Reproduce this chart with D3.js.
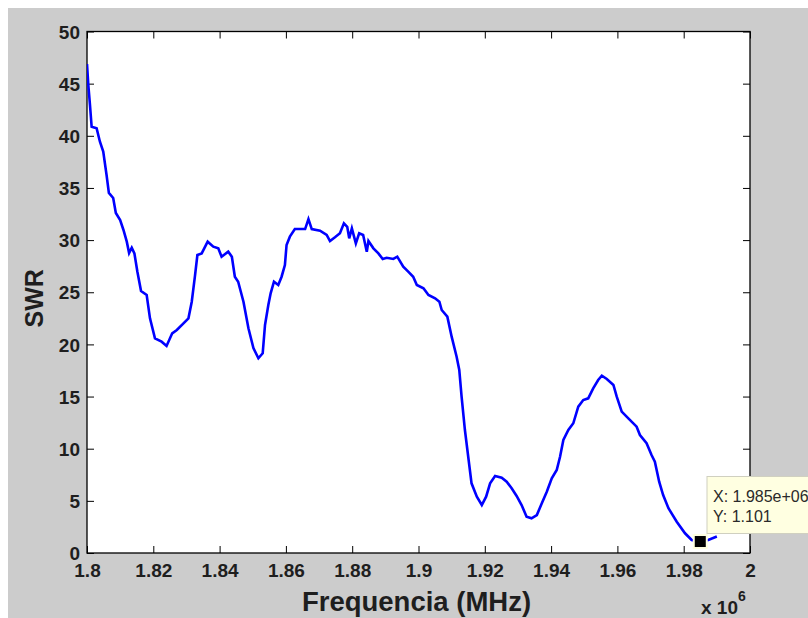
<!DOCTYPE html>
<html>
<head>
<meta charset="utf-8">
<script src="https://cdn.jsdelivr.net/npm/d3@7"></script>
<style>
  html, body { margin: 0; padding: 0; background: #ffffff; }
  svg { display: block; }
  text { font-family: "Liberation Sans", Arial, sans-serif; }
</style>
</head>
<body>
<svg id="chart" width="808" height="618"></svg>
<script>
// Sweep frequency (MHz) and measured standing wave ratio
const freqMHz = [
  1.8000, 1.8004, 1.8009, 1.8014, 1.8029, 1.8039, 1.8049, 1.8059, 1.8066, 1.8079,
  1.8087, 1.8100, 1.8110, 1.8120, 1.8127, 1.8135, 1.8143, 1.8152, 1.8163, 1.8180,
  1.8190, 1.8205, 1.8225, 1.8240, 1.8257, 1.8271, 1.8291, 1.8306, 1.8316, 1.8326,
  1.8333, 1.8346, 1.8364, 1.8381, 1.8396, 1.8406, 1.8426, 1.8437, 1.8446, 1.8456,
  1.8472, 1.8487, 1.8502, 1.8517, 1.8530, 1.8537, 1.8547, 1.8554, 1.8564, 1.8577,
  1.8587, 1.8597, 1.8602, 1.8612, 1.8627, 1.8658, 1.8668, 1.8678, 1.8703, 1.8723,
  1.8733, 1.8748, 1.8763, 1.8775, 1.8785, 1.8791, 1.8799, 1.8811, 1.8821, 1.8833,
  1.8844, 1.8849, 1.8864, 1.8879, 1.8892, 1.8904, 1.8924, 1.8936, 1.8954, 1.8969,
  1.8984, 1.8995, 1.9015, 1.9030, 1.9050, 1.9063, 1.9070, 1.9087, 1.9100, 1.9115,
  1.9123, 1.9130, 1.9140, 1.9150, 1.9160, 1.9176, 1.9191, 1.9204, 1.9216, 1.9231,
  1.9251, 1.9266, 1.9281, 1.9296, 1.9311, 1.9326, 1.9341, 1.9357, 1.9372, 1.9387,
  1.9402, 1.9417, 1.9427, 1.9437, 1.9452, 1.9467, 1.9482, 1.9497, 1.9512, 1.9527,
  1.9542, 1.9553, 1.9568, 1.9588, 1.9598, 1.9613, 1.9633, 1.9658, 1.9668, 1.9688,
  1.9703, 1.9713, 1.9726, 1.9738, 1.9754, 1.9779, 1.9804, 1.9824, 1.9850, 1.9874,
  1.9900
];
const swr = [
  46.88, 44.87, 42.95, 40.87, 40.72, 39.43, 38.48, 36.24, 34.52, 34.04,
  32.60, 31.93, 30.97, 29.85, 28.76, 29.27, 28.73, 26.97, 25.12, 24.74,
  22.50, 20.58, 20.26, 19.85, 21.06, 21.38, 22.02, 22.50, 24.09, 26.65,
  28.57, 28.73, 29.85, 29.37, 29.21, 28.41, 28.89, 28.41, 26.49, 26.01,
  24.09, 21.54, 19.65, 18.67, 19.15, 21.86, 23.78, 24.90, 26.01, 25.70,
  26.49, 27.61, 29.53, 30.33, 31.06, 31.06, 32.02, 31.06, 30.90, 30.49,
  29.91, 30.27, 30.65, 31.61, 31.28, 30.17, 31.13, 29.69, 30.65, 30.49,
  28.89, 29.91, 29.21, 28.73, 28.19, 28.31, 28.19, 28.41, 27.45, 26.97,
  26.49, 25.70, 25.38, 24.74, 24.42, 24.09, 23.30, 22.66, 20.74, 18.82,
  17.55, 14.99, 11.79, 9.23, 6.68, 5.40, 4.60, 5.40, 6.68, 7.38,
  7.22, 6.84, 6.20, 5.47, 4.60, 3.48, 3.33, 3.64, 4.77, 5.88,
  7.16, 7.96, 9.23, 10.83, 11.79, 12.44, 14.03, 14.67, 14.83, 15.79,
  16.59, 17.00, 16.68, 16.11, 14.99, 13.55, 12.91, 12.11, 11.31, 10.52,
  9.40, 8.75, 6.84, 5.56, 4.29, 3.00, 1.89, 1.25, 1.101, 1.25,
  1.58
];

const xTickValues = [1.8, 1.82, 1.84, 1.86, 1.88, 1.9, 1.92, 1.94, 1.96, 1.98, 2.0];
const xTickLabels = ["1.8", "1.82", "1.84", "1.86", "1.88", "1.9", "1.92", "1.94", "1.96", "1.98", "2"];
const yTickValues = [0, 5, 10, 15, 20, 25, 30, 35, 40, 45, 50];
const yTickLabels = ["0", "5", "10", "15", "20", "25", "30", "35", "40", "45", "50"];

// Data cursor readout
const cursorFreqMHz = [1.985];
const cursorSwr = [1.101];
const cursorLabels = ["X: 1.985e+06", "Y: 1.101"];

const svg = d3.select("#chart");
const W = 808, H = 618;
const plot = { left: 87, right: 750, top: 31.5, bottom: 553 };

// Figure background
svg.append("rect").attr("x", 8).attr("y", 8).attr("width", W - 8).attr("height", H - 8)
  .attr("fill", "#cccccc");

const x = d3.scaleLinear().domain([1.8, 2.0]).range([plot.left, plot.right]);
const y = d3.scaleLinear().domain([0, 50]).range([plot.bottom, plot.top]);

// Axes area
svg.append("rect")
  .attr("x", plot.left).attr("y", plot.top)
  .attr("width", plot.right - plot.left).attr("height", plot.bottom - plot.top)
  .attr("fill", "#ffffff");

svg.append("defs").append("clipPath").attr("id", "plotClip")
  .append("rect")
  .attr("x", plot.left).attr("y", plot.top)
  .attr("width", plot.right - plot.left).attr("height", plot.bottom - plot.top);

const tickFont = { size: "19px", weight: "bold", fill: "#1e1e1e" };
const tickLen = 7;

// Bottom axis with labels
const gBottom = svg.append("g").attr("transform", `translate(0,${plot.bottom})`)
  .call(d3.axisBottom(x).tickValues(xTickValues).tickSizeInner(-tickLen).tickSizeOuter(0)
    .tickPadding(12).tickFormat((d, i) => xTickLabels[i]));
// Top axis (ticks only)
const gTop = svg.append("g").attr("transform", `translate(0,${plot.top})`)
  .call(d3.axisTop(x).tickValues(xTickValues).tickSizeInner(-tickLen).tickSizeOuter(0)
    .tickFormat(""));
// Left axis with labels
const gLeft = svg.append("g").attr("transform", `translate(${plot.left},0)`)
  .call(d3.axisLeft(y).tickValues(yTickValues).tickSizeInner(-tickLen).tickSizeOuter(0)
    .tickPadding(7).tickFormat((d, i) => yTickLabels[i]));
// Right axis (ticks only)
const gRight = svg.append("g").attr("transform", `translate(${plot.right},0)`)
  .call(d3.axisRight(y).tickValues(yTickValues).tickSizeInner(-tickLen).tickSizeOuter(0)
    .tickFormat(""));

[gBottom, gTop, gLeft, gRight].forEach(g => {
  g.select(".domain").remove();
  g.selectAll(".tick line").attr("stroke", "#000").attr("stroke-width", 1);
  g.selectAll("text")
    .attr("font-family", "'Liberation Sans', Arial, sans-serif")
    .attr("font-size", tickFont.size)
    .attr("font-weight", tickFont.weight)
    .attr("fill", tickFont.fill);
});
gBottom.selectAll("text").attr("dy", "0.71em").attr("y", 11);
gLeft.selectAll("text").attr("x", -7).attr("dy", "0.35em");

// Axes box
svg.append("rect")
  .attr("x", plot.left).attr("y", plot.top)
  .attr("width", plot.right - plot.left).attr("height", plot.bottom - plot.top)
  .attr("fill", "none").attr("stroke", "#000").attr("stroke-width", 1.3);

// SWR curve
const line = d3.line().x((d, i) => x(freqMHz[i])).y((d, i) => y(swr[i]));
svg.append("path")
  .datum(swr)
  .attr("clip-path", "url(#plotClip)")
  .attr("d", line)
  .attr("fill", "none")
  .attr("stroke", "#0000ff")
  .attr("stroke-width", 2.6)
  .attr("stroke-linejoin", "miter");

// Axis titles
svg.append("text")
  .attr("x", (plot.left + plot.right) / 2 - 2).attr("y", 611)
  .attr("text-anchor", "middle")
  .attr("font-size", "27.5px").attr("font-weight", "bold").attr("fill", "#1e1e1e")
  .text("Frequencia (MHz)");

svg.append("text")
  .attr("transform", `translate(43,${(plot.top + plot.bottom) / 2 + 6}) rotate(-90)`)
  .attr("text-anchor", "middle")
  .attr("font-size", "25px").attr("font-weight", "bold").attr("fill", "#1e1e1e")
  .text("SWR");

// Exponent label for the frequency axis
const expo = svg.append("text").attr("x", 701).attr("y", 614)
  .attr("font-size", "19px").attr("font-weight", "bold").attr("fill", "#1e1e1e");
expo.append("tspan").text("x 10");
expo.append("tspan").attr("dy", -13).attr("font-size", "14px").text("6");

// Data cursor marker
const mx = x(cursorFreqMHz[0]), my = y(cursorSwr[0]);
svg.append("rect")
  .attr("x", mx - 7.5).attr("y", my - 7.5).attr("width", 15).attr("height", 15)
  .attr("fill", "#ffffe1");
svg.append("rect")
  .attr("x", mx - 5.5).attr("y", my - 5.5).attr("width", 11).attr("height", 11)
  .attr("fill", "#000");

// Data cursor tooltip
svg.append("rect")
  .attr("x", 707).attr("y", 476.5).attr("width", 120).attr("height", 57)
  .attr("fill", "#ffffe1").attr("stroke", "#d0d0c0").attr("stroke-width", 1);
svg.selectAll(".cursorText")
  .data(cursorLabels)
  .join("text")
  .attr("class", "cursorText")
  .attr("x", 713)
  .attr("y", (d, i) => 501.5 + i * 20)
  .attr("font-size", "16px")
  .attr("fill", "#2a2a2a")
  .text(d => d);
</script>
</body>
</html>
